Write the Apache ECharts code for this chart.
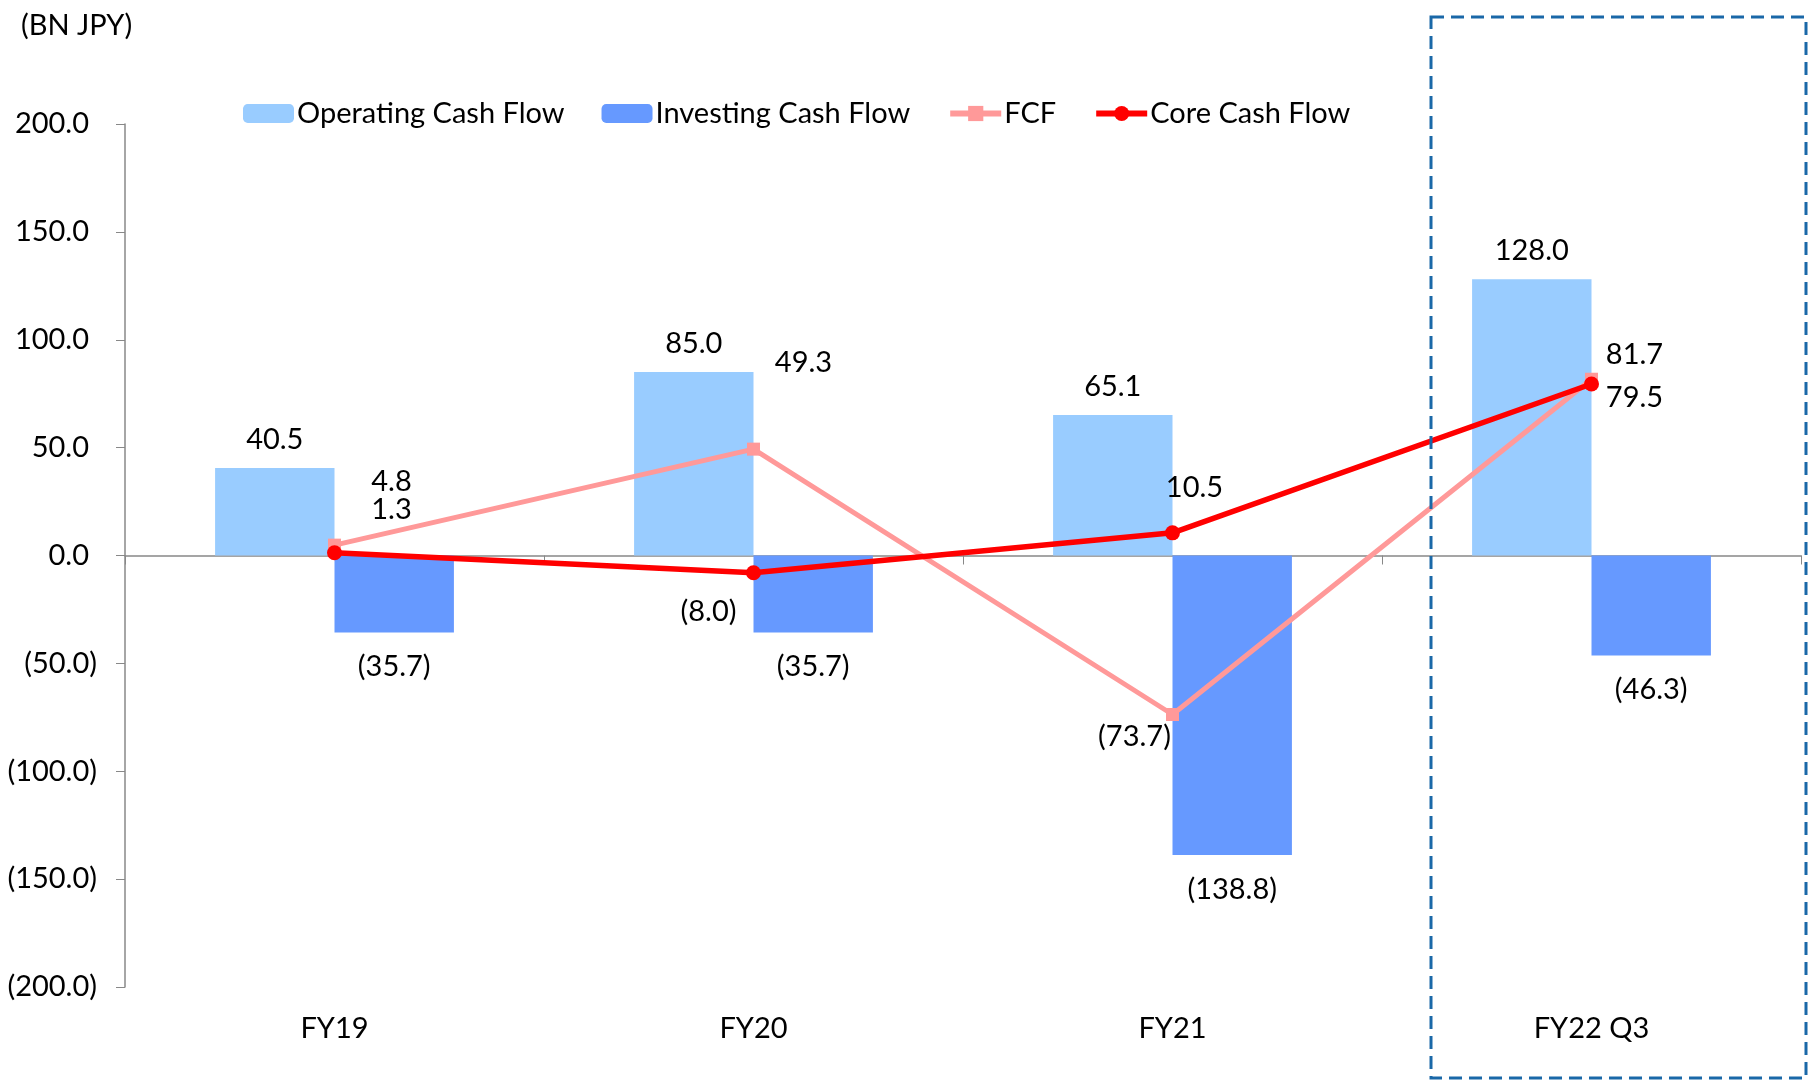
<!DOCTYPE html>
<html>
<head>
<meta charset="utf-8">
<script src="https://cdn.jsdelivr.net/npm/echarts@6/dist/echarts.min.js"></script>
<style>
html,body{margin:0;padding:0;background:#fff;}
#chart{width:1816px;height:1080px;}
</style>
</head>
<body>
<div id="chart"></div>
<script>
const categories = ['FY19', 'FY20', 'FY21', 'FY22 Q3'];
const operatingCF = [40.5, 85.0, 65.1, 128.0];
const investingCF = [-35.7, -35.7, -138.8, -46.3];
const fcf = [4.8, 49.3, -73.7, 81.7];
const coreCF = [1.3, -8.0, 10.5, 79.5];
const yTicks = { min: -200, max: 200, interval: 50 };
const unitLabel = '(BN JPY)';

// label placement (style, not data)
const fcfLabelOffsets = [[57, -64], [50, -86], [-38, 22], [43, -25]];
const coreLabelOffsets = [[57, -43], [-45, 39], [22, -45], [43, 14]];

const FONT = 'Lato, "Noto Sans", sans-serif';
const FS = 29;
const fmt = v => {
  const s = Math.abs(v).toFixed(1);
  return v < 0 ? '(' + s + ')' : s;
};

const chart = echarts.init(document.getElementById('chart'), null, { renderer: 'canvas' });

const option = {
  backgroundColor: '#fff',
  textStyle: { fontFamily: FONT },
  title: {
    text: unitLabel, left: 16, top: 6,
    textStyle: { fontFamily: FONT, fontSize: FS, fontWeight: 'normal', color: '#000' }
  },
  grid: { left: 125, right: 15, top: 124, bottom: 93, containLabel: false },
  legend: {
    left: 238, top: 94,
    itemWidth: 51, itemHeight: 19, itemGap: 37,
    textStyle: { fontFamily: FONT, fontSize: FS, color: '#000', padding: [0, 0, 0, -2] },
    data: [
      { name: 'Operating Cash Flow' },
      { name: 'Investing Cash Flow' },
      { name: 'FCF', lineStyle: { width: 6 } },
      { name: 'Core Cash Flow', lineStyle: { width: 6 } }
    ]
  },
  xAxis: [
    {
      type: 'category', data: categories,
      axisLine: { onZero: true, lineStyle: { color: '#888', width: 1.5 } },
      axisTick: { show: true, length: 9, inside: false, lineStyle: { color: '#888' } },
      axisLabel: { show: false }
    },
    {
      type: 'category', data: categories, position: 'bottom',
      axisLine: { show: false, onZero: false },
      axisTick: { show: false },
      axisLabel: { show: true, margin: 27, fontFamily: FONT, fontSize: FS, color: '#000' }
    }
  ],
  yAxis: {
    type: 'value', min: yTicks.min, max: yTicks.max, interval: yTicks.interval,
    splitLine: { show: false },
    axisLine: { show: true, lineStyle: { color: '#888', width: 1.5 } },
    axisTick: { show: true, length: 9, lineStyle: { color: '#888' } },
    axisLabel: {
      margin: 28, fontFamily: FONT, fontSize: FS, color: '#000',
      formatter: v => v < 0 ? fmt(v) : '{p|' + fmt(v) + '}',
      rich: { p: { fontFamily: FONT, fontSize: FS, color: '#000', padding: [0, 8, 0, 0] } }
    }
  },
  graphic: [{
    type: 'rect',
    shape: { x: 1431, y: 17, width: 375, height: 1061 },
    style: { fill: 'none', stroke: '#1A68A8', lineWidth: 3, lineDash: [13, 7] },
    z: 100
  }],
  series: [
    {
      name: 'Operating Cash Flow', type: 'bar', data: operatingCF,
      barGap: '0%', barCategoryGap: '43%',
      itemStyle: { color: '#99CCFF' },
      label: { show: true, position: 'top', distance: 14, fontFamily: FONT, fontSize: FS, color: '#000', formatter: p => fmt(p.value) }
    },
    {
      name: 'Investing Cash Flow', type: 'bar', data: investingCF,
      barGap: '0%', barCategoryGap: '43%',
      itemStyle: { color: '#6699FF' },
      label: { show: true, position: 'bottom', distance: 20, fontFamily: FONT, fontSize: FS, color: '#000', formatter: p => fmt(p.value) }
    },
    {
      name: 'FCF', type: 'line', z: 5,
      data: fcf.map((v, i) => ({ value: v, label: { offset: fcfLabelOffsets[i] } })),
      symbol: 'rect', symbolSize: 13,
      lineStyle: { color: '#FF9999', width: 5 },
      itemStyle: { color: '#FF9999' },
      label: { show: true, position: 'inside', fontFamily: FONT, fontSize: FS, color: '#000', formatter: p => fmt(p.value) }
    },
    {
      name: 'Core Cash Flow', type: 'line', z: 6,
      data: coreCF.map((v, i) => ({ value: v, label: { offset: coreLabelOffsets[i] } })),
      symbol: 'circle', symbolSize: 15,
      lineStyle: { color: '#FF0000', width: 5.5 },
      itemStyle: { color: '#FF0000' },
      label: { show: true, position: 'inside', fontFamily: FONT, fontSize: FS, color: '#000', formatter: p => fmt(p.value) }
    }
  ]
};
chart.setOption(option);
</script>
</body>
</html>
